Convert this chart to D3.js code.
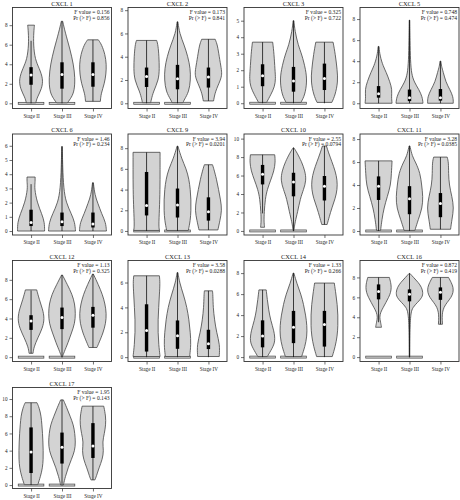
<!DOCTYPE html>
<html>
<head>
<meta charset="utf-8">
<script src="https://cdn.jsdelivr.net/npm/d3@7"></script>
<style>
  body { margin: 0; background: #fff; }
  svg text { font-family: "Liberation Serif", "DejaVu Serif", serif; fill: #222; }
</style>
</head>
<body>
<div id="chart"></div>
<script>
// panel labels and stats text
const genes = ["CXCL 1", "CXCL 2", "CXCL 3", "CXCL 5", "CXCL 6", "CXCL 9", "CXCL 10",
               "CXCL 11", "CXCL 12", "CXCL 13", "CXCL 14", "CXCL 16", "CXCL 17"];
const stages = ["Stage II", "Stage III", "Stage IV"];
const fValues = ["0.156", "0.173", "0.325", "0.748", "1.46", "3.94", "2.55",
                 "3.28", "1.13", "3.58", "1.33", "0.872", "1.95"];
const prValues = ["0.856", "0.841", "0.722", "0.474", "0.234", "0.0201", "0.0794",
                  "0.0385", "0.325", "0.0288", "0.266", "0.419", "0.143"];

// y axis per panel
const yLow = [-0.53, -0.45, -0.32, -0.5, -0.28, -0.39, -0.44, -0.35, -0.45, -0.35, -0.42, -0.44, -0.4];
const yHigh = [9.81, 8.23, 5.8, 9.1, 6.83, 9.37, 10.5, 8.44, 10.0, 7.77, 9.2, 9.7, 11.34];
const tickMax = [8, 8, 5, 8, 6, 8, 10, 8, 8, 6, 8, 8, 10];
const tickStep = [2, 2, 1, 2, 1, 2, 2, 2, 2, 2, 2, 2, 2];

// box stats per panel: [Stage II, Stage III, Stage IV]
const q1 = [[1.9, 1.5, 1.7], [1.4, 1.2, 1.35], [1.03, 0.7, 0.8], [0.53, 0.2, 0.25], [0.35, 0.35, 0.25],
            [1.5, 1.3, 1.0], [5.04, 3.75, 3.3], [2.7, 1.46, 1.2], [2.82, 2.9, 3.05], [0.45, 0.67, 0.65],
            [0.93, 1.33, 1.0], [5.8, 5.6, 5.75], [1.4, 2.5, 3.15]];
const medians = [[2.9, 2.95, 2.95], [2.3, 2.1, 2.25], [1.67, 1.35, 1.5], [0.9, 0.53, 0.53], [0.6, 0.65, 0.5],
                 [2.45, 2.5, 1.85], [6.13, 5.3, 4.85], [3.9, 2.8, 2.4], [3.75, 4.1, 4.34], [2.15, 1.72, 1.07],
                 [2.0, 2.85, 3.1], [6.6, 6.3, 6.5], [3.85, 4.4, 4.55]];
const q3 = [[3.7, 4.2, 4.2], [3.07, 3.3, 3.07], [2.36, 2.2, 2.4], [1.63, 1.3, 1.35], [1.5, 1.3, 1.3],
            [5.7, 4.1, 3.25], [7.15, 6.3, 5.95], [4.75, 3.9, 3.3], [4.34, 5.13, 5.2], [4.25, 2.95, 2.2],
            [3.5, 4.4, 4.4], [7.3, 6.8, 7.0], [6.7, 6.1, 7.2]];
const whiskLo = [[0, 0, 0.2], [0, 0, 0.2], [0, 0, 0], [0, 0, 0], [0, 0, 0],
                 [0, 0, 0.1], [1.9, 0, 0.7], [0, 0, 0.15], [0.4, 0, 1.0], [0, 0, 0],
                 [0, 0, 0], [3.5, 0, 3.3], [0, 0, 0.6]];
const whiskHi = [[6.4, 8.4, 6.5], [5.4, 7.0, 5.5], [3.7, 5.0, 3.7], [5.4, 7.9, 4.0], [3.3, 5.95, 3.4],
                 [7.6, 8.2, 6.4], [8.25, 9.0, 9.2], [6.1, 7.4, 6.43], [6.9, 8.5, 8.6], [6.54, 6.8, 5.33],
                 [6.4, 8.0, 7.05], [8.0, 8.4, 8.0], [9.57, 9.9, 9.17]];
// flat violin piece at zero (1 = present)
const zeroBars = [[1, 1, 0], [1, 1, 0], [1, 1, 0], [0, 0, 0], [0, 0, 0], [1, 1, 0], [1, 1, 0],
                  [1, 1, 0], [1, 1, 0], [1, 1, 0], [1, 1, 0], [1, 1, 0], [1, 1, 0]];

// violin outlines: [value, relative half width]
const profiles = [
  [[[8.0,0.25],[7.3,0.2],[6,0.17],[4.5,0.3],[3.6,0.6],[2.5,0.9],[1.5,0.8],[0.6,0.45],[0.05,0.35]],
   [[8.4,0.05],[7.3,0.23],[5.5,0.6],[4,0.85],[2.6,0.97],[1.3,0.92],[0.6,0.7],[0.05,0.4]],
   [[6.5,0.4],[6,0.65],[5,0.9],[4,1.0],[3,0.97],[2,0.85],[1,0.6],[0.2,0.55]]],
  [[[5.4,0.75],[5,0.85],[4,0.92],[3,0.95],[2,0.9],[1,0.5],[0.3,0.35],[0.05,0.3]],
   [[7.0,0.03],[6,0.15],[5,0.5],[4,0.77],[3,0.95],[2,0.97],[1,0.85],[0.3,0.5],[0.05,0.4]],
   [[5.5,0.5],[5,0.67],[4,0.8],[3,0.95],[2.5,1.0],[2,0.9],[1,0.5],[0.2,0.38]]],
  [[[3.7,0.75],[3,0.85],[2,0.92],[1.5,0.97],[1,0.9],[0.5,0.6],[0.05,0.3]],
   [[5.0,0.03],[4.4,0.1],[3.5,0.35],[3,0.6],[2,0.92],[1.3,1.0],[0.5,0.85],[0.05,0.55]],
   [[3.7,0.64],[3,0.8],[2,0.95],[1.3,1.0],[0.5,0.8],[0.05,0.55]]],
  [[[5.4,0.03],[4.5,0.1],[3.5,0.35],[3,0.55],[2,0.85],[1.3,1.0],[0.6,0.95],[0,1.0]],
   [[7.9,0.02],[6,0.04],[4,0.07],[2.8,0.15],[2,0.35],[1.3,0.7],[0.6,0.95],[0,1.0]],
   [[4.0,0.03],[3.5,0.08],[3,0.2],[2,0.4],[1.3,0.7],[0.6,0.95],[0,0.95]]],
  [[[3.8,0.3],[3.4,0.3],[3,0.25],[2,0.45],[1.2,0.8],[0.6,1.0],[0,1.0]],
   [[5.95,0.02],[4.5,0.05],[3,0.12],[2,0.3],[1.2,0.7],[0.6,0.95],[0,1.0]],
   [[3.4,0.03],[2.5,0.15],[2,0.35],[1.2,0.65],[0.6,0.95],[0,1.0]]],
  [[[7.6,1.0],[6,1.0],[4,1.0],[2,0.95],[0.5,0.9],[0.05,0.95]],
   [[8.2,0.03],[7,0.3],[6,0.65],[5,0.85],[4,0.95],[3,1.0],[2,1.0],[1,0.95],[0.05,0.8]],
   [[6.4,0.3],[6,0.4],[5,0.6],[4,0.75],[3,0.9],[2,1.0],[1,0.85],[0.1,0.7]]],
  [[[8.25,0.9],[7.5,0.95],[6.5,0.85],[5.5,0.6],[4.5,0.35],[3.5,0.2],[2,0.12],[1,0.1],[0.4,0.15]],
   [[9.0,0.03],[8.5,0.25],[7.5,0.6],[6.5,0.85],[5.5,0.95],[4.5,0.75],[3.5,0.5],[2,0.3],[1,0.12],[0,0.02]],
   [[9.2,0.15],[8.5,0.3],[7.5,0.55],[6.5,0.8],[5.5,0.95],[4.5,0.95],[3.5,0.8],[2.5,0.55],[1.5,0.35],[0.7,0.2]]],
  [[[6.1,1.0],[5,0.95],[4,0.9],[3,0.65],[2,0.4],[1,0.25],[0.05,0.15]],
   [[7.4,0.03],[6.5,0.2],[6,0.45],[5,0.8],[4,0.9],[3,1.0],[2,0.95],[1,0.65],[0.05,0.4]],
   [[6.43,0.5],[6,0.6],[5,0.6],[4,0.65],[3,0.85],[2,1.0],[1,0.85],[0.15,0.75]]],
  [[[6.96,0.42],[6,0.6],[5,0.85],[4,1.0],[3,0.85],[2,0.5],[1,0.2],[0.4,0.15]],
   [[8.5,0.03],[7.5,0.4],[6.5,0.75],[5.5,0.95],[4.5,1.0],[3.5,0.95],[2.5,0.7],[1.5,0.45],[0.5,0.15],[0,0.02]],
   [[8.6,0.03],[7.5,0.4],[6.5,0.7],[5.5,0.9],[4.5,1.0],[3.5,0.95],[2.5,0.75],[1.5,0.45],[1.0,0.3]]],
  [[[6.54,0.95],[6,1.0],[5,0.95],[4,0.9],[3,0.85],[2,0.85],[1,0.9],[0.05,1.0]],
   [[6.8,0.03],[6,0.15],[5,0.45],[4,0.7],[3,0.85],[2,0.95],[1,1.0],[0.05,0.9]],
   [[5.33,0.3],[5,0.33],[4,0.35],[3,0.45],[2,0.6],[1,0.85],[0.05,0.8]]],
  [[[6.4,0.27],[5.5,0.35],[4.5,0.45],[3.5,0.6],[2.5,0.85],[1.5,0.95],[0.8,0.7],[0.05,0.35]],
   [[8.0,0.03],[7,0.25],[6,0.55],[5,0.75],[4,0.9],[3,1.0],[2,1.0],[1,0.85],[0.05,0.6]],
   [[7.05,0.73],[6,0.85],[5,0.95],[4,1.0],[3,1.0],[2,0.95],[1,0.8],[0.05,0.58]]],
  [[[8.0,0.8],[7.5,0.9],[7,0.95],[6.5,0.9],[6,0.75],[5.5,0.55],[5,0.35],[4.5,0.15],[4,0.07],[3.5,0.15],[3.0,0.22]],
   [[8.4,0.03],[8,0.3],[7.5,0.65],[7,0.9],[6.5,1.0],[6,0.95],[5.5,0.6],[5,0.25],[4.5,0.1],[3,0.03],[0,0.02]],
   [[8.0,0.6],[7.5,0.8],[7,0.95],[6.5,0.95],[6,0.8],[5.5,0.5],[5,0.25],[4.5,0.15],[4,0.12],[3.3,0.15]]],
  [[[9.57,0.44],[9,0.6],[8,0.75],[7,0.8],[6,0.85],[5,0.88],[4,0.9],[3,0.9],[2,0.85],[1,0.7],[0.05,0.5]],
   [[9.9,0.1],[9,0.35],[8,0.6],[7,0.85],[6,0.95],[5,1.0],[4,0.95],[3,0.7],[2,0.45],[1,0.25],[0,0.1]],
   [[9.17,0.8],[8,0.95],[7,0.95],[6,0.85],[5,0.7],[4,0.8],[3,0.7],[2,0.45],[1,0.25],[0.6,0.15]]]
];

const W = 460, H = 500;
const colLeft = [12.5, 128, 244, 360],
      rowTop = [7.5, 134, 260.5, 387.5],
      pw = 99, ph = 101,
      maxHalf = 13.5;   // px, half width of widest violin

const svg = d3.select("#chart").append("svg")
    .attr("width", W)
    .attr("height", H);

genes.forEach((gene, i) => {
    const left = colLeft[i % 4], top = rowTop[Math.floor(i / 4)];
    const g = svg.append("g").attr("transform", `translate(${left},${top})`);

    const x = d3.scaleLinear().domain([0.4, 3.6]).range([0, pw]);
    const y = d3.scaleLinear().domain([yLow[i], yHigh[i]]).range([ph, 0]);

    // y axis
    const yAx = g.append("g")
        .call(d3.axisLeft(y)
            .tickValues(d3.range(0, tickMax[i] + 0.01, tickStep[i]))
            .tickFormat(d3.format("d"))
            .tickSize(3).tickPadding(2));
    yAx.select(".domain").remove();
    yAx.selectAll("line").attr("stroke", "#333").attr("stroke-width", 0.7);
    yAx.selectAll("text").style("font-size", "5.2px").attr("fill", "#222")
        .style("font-family", "'Liberation Serif', serif");

    // x axis
    const xAx = g.append("g")
        .attr("transform", `translate(0,${ph})`)
        .call(d3.axisBottom(x)
            .tickValues([1, 2, 3])
            .tickFormat(d => stages[d - 1])
            .tickSize(3).tickPadding(2.5));
    xAx.select(".domain").remove();
    xAx.selectAll("line").attr("stroke", "#333").attr("stroke-width", 0.7);
    xAx.selectAll("text").style("font-size", "5.2px").attr("fill", "#222")
        .style("font-family", "'Liberation Serif', serif");

    stages.forEach((s, j) => {
        const cx = x(j + 1);

        // flat piece at zero
        if (zeroBars[i][j]) {
            g.append("rect")
                .attr("x", cx - maxHalf * 0.95)
                .attr("y", y(0) - 1)
                .attr("width", maxHalf * 1.9)
                .attr("height", 2)
                .attr("fill", "#d3d3d3")
                .attr("stroke", "#444")
                .attr("stroke-width", 0.7);
        }

        // violin
        const area = d3.area()
            .y(d => y(d[0]))
            .x0(d => cx - d[1] * maxHalf)
            .x1(d => cx + d[1] * maxHalf)
            .curve(d3.curveBasis);
        g.append("path")
            .datum(profiles[i][j])
            .attr("d", area)
            .attr("fill", "#d3d3d3")
            .attr("stroke", "#444")
            .attr("stroke-width", 0.8);

        // whisker
        g.append("line")
            .attr("x1", cx).attr("x2", cx)
            .attr("y1", y(whiskLo[i][j])).attr("y2", y(whiskHi[i][j]))
            .attr("stroke", "#111")
            .attr("stroke-width", 0.8);

        // box
        g.append("rect")
            .attr("x", cx - 1.7)
            .attr("y", y(q3[i][j]))
            .attr("width", 3.4)
            .attr("height", y(q1[i][j]) - y(q3[i][j]))
            .attr("fill", "#000");

        // median
        g.append("circle")
            .attr("cx", cx)
            .attr("cy", y(medians[i][j]))
            .attr("r", 1.5)
            .attr("fill", "#fff");
    });

    // frame
    g.append("rect")
        .attr("width", pw)
        .attr("height", ph)
        .attr("fill", "none")
        .attr("stroke", "#333")
        .attr("stroke-width", 0.9);

    // title
    g.append("text")
        .attr("x", pw / 2)
        .attr("y", -2)
        .attr("text-anchor", "middle")
        .style("font-size", "6.4px")
        .text(gene);

    // F stats
    g.append("text")
        .attr("x", pw - 2)
        .attr("y", 6.8)
        .attr("text-anchor", "end")
        .style("font-size", "5.6px")
        .text(`F value = ${fValues[i]}`);
    g.append("text")
        .attr("x", pw - 2)
        .attr("y", 12)
        .attr("text-anchor", "end")
        .style("font-size", "5.6px")
        .text(`Pr (> F) = ${prValues[i]}`);
});
</script>
</body>
</html>
